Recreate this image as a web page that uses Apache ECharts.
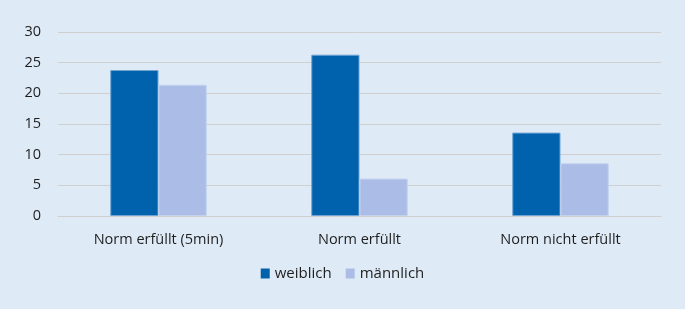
<!DOCTYPE html>
<html>
<head>
<meta charset="utf-8">
<script src="https://cdn.jsdelivr.net/npm/echarts@6/dist/echarts.min.js"></script>
<style>
  html, body { margin: 0; padding: 0; background: #deebf7; }
  #chart { width: 685px; height: 309px; }
</style>
</head>
<body>
<div id="chart"></div>
<script>
const categories = ['Norm erfüllt (5min)', 'Norm erfüllt', 'Norm nicht erfüllt'];
const weiblich = [23.8, 26.3, 13.6];
const maennlich = [21.4, 6.1, 8.6];

const chart = echarts.init(document.getElementById('chart'));
const font = 'Open Sans, sans-serif';
chart.setOption({
  backgroundColor: '#deebf7',
  animation: false,
  grid: { left: 58, right: 24, top: 32, bottom: 93 },
  legend: {
    bottom: 23,
    left: 'center',
    itemWidth: 9,
    itemHeight: 10,
    itemGap: 14,
    icon: 'rect',
    itemStyle: { borderWidth: 0 },
    textStyle: { fontFamily: font, fontSize: 15, color: '#1e1e1e' },
    data: ['weiblich', 'männlich']
  },
  xAxis: {
    type: 'category',
    data: categories,
    axisLine: { show: true, lineStyle: { color: '#cfcfcf', width: 1 } },
    axisTick: { show: false },
    axisLabel: { fontFamily: font, fontSize: 14.5, color: '#1e1e1e', margin: 16 }
  },
  yAxis: {
    type: 'value',
    min: 0,
    max: 30,
    interval: 5,
    axisLine: { show: false },
    axisTick: { show: false },
    splitLine: { lineStyle: { color: '#cfcfcf', width: 1 } },
    axisLabel: { fontFamily: font, fontSize: 14.5, color: '#1e1e1e', margin: 17 }
  },
  series: [
    {
      name: 'weiblich',
      type: 'bar',
      data: weiblich,
      barGap: '0%',
      barCategoryGap: '52%',
      itemStyle: { color: '#0062ac', borderColor: '#6fa3d4', borderWidth: 1 }
    },
    {
      name: 'männlich',
      type: 'bar',
      data: maennlich,
      itemStyle: { color: '#abbde6', borderColor: '#c4d2ee', borderWidth: 1 }
    }
  ]
});
</script>
</body>
</html>
